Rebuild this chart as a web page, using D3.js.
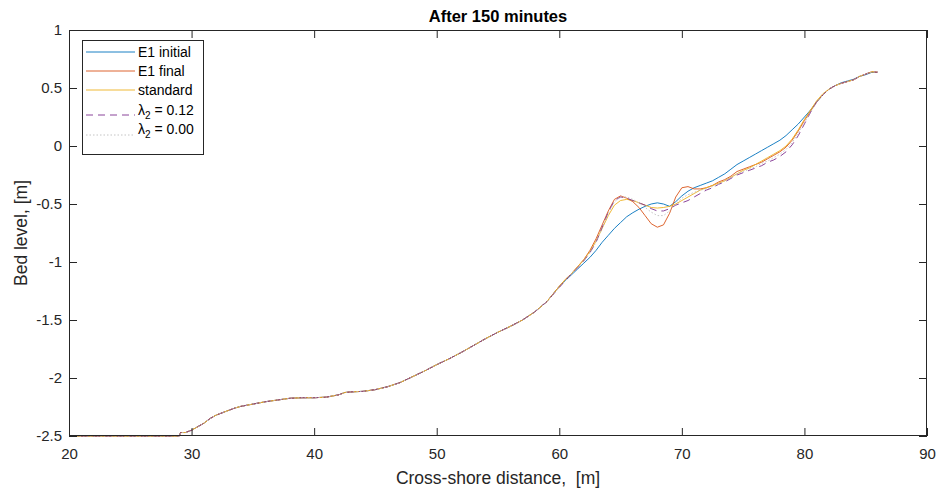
<!DOCTYPE html>
<html>
<head>
<meta charset="utf-8">
<script src="https://cdn.jsdelivr.net/npm/d3@7"></script>
<style>
  html, body { margin: 0; padding: 0; background: #fff; }
  svg { display: block; font-family: "Liberation Sans", Arial, sans-serif; }
  text { white-space: pre; }
</style>
</head>
<body>
<svg id="chart" width="939" height="491"></svg>
<script>
// ---------- data ----------
const xTicks = [20, 30, 40, 50, 60, 70, 80, 90];
const yTicks = [-2.5, -2, -1.5, -1, -0.5, 0, 0.5, 1];
const titleText = "After 150 minutes";
const xLabel = "Cross-shore distance,  [m]";
const yLabel = "Bed level, [m]";

// offshore part, shared by all profiles (they coincide there)
const xOffshore = [20, 22, 24, 26, 28, 29, 29.1, 29.5, 30, 30.5, 31, 31.5, 32, 32.5, 33, 33.5, 34, 35, 36, 37, 38, 39, 40, 41, 42, 42.5, 43, 44, 45, 46, 47, 48, 49, 50, 51, 52, 53, 54, 55, 56, 57, 58, 59];
const yOffshore = [-2.5, -2.5, -2.5, -2.5, -2.5, -2.5, -2.47, -2.47, -2.45, -2.42, -2.39, -2.35, -2.32, -2.30, -2.28, -2.26, -2.245, -2.225, -2.205, -2.19, -2.175, -2.17, -2.17, -2.165, -2.145, -2.125, -2.12, -2.115, -2.1, -2.075, -2.04, -1.99, -1.94, -1.885, -1.835, -1.78, -1.72, -1.66, -1.605, -1.555, -1.5, -1.43, -1.34];

// nearshore part, x from 60 to 86 every 0.5 m
const xNear = [60, 60.5, 61, 61.5, 62, 62.5, 63, 63.5, 64, 64.5, 65, 65.5, 66, 66.5, 67, 67.5, 68, 68.5, 69, 69.5, 70, 70.5, 71, 71.5, 72, 72.5, 73, 73.5, 74, 74.5, 75, 75.5, 76, 76.5, 77, 77.5, 78, 78.5, 79, 79.5, 80, 80.5, 81, 81.5, 82, 82.5, 83, 83.5, 84, 84.5, 85, 85.5, 86];
const e1Initial = [-1.21, -1.16, -1.11, -1.06, -1.01, -0.96, -0.90, -0.83, -0.77, -0.71, -0.66, -0.61, -0.575, -0.545, -0.52, -0.50, -0.49, -0.50, -0.52, -0.48, -0.43, -0.39, -0.36, -0.34, -0.32, -0.30, -0.27, -0.24, -0.20, -0.16, -0.13, -0.10, -0.07, -0.04, -0.01, 0.02, 0.05, 0.09, 0.14, 0.19, 0.25, 0.31, 0.38, 0.44, 0.49, 0.52, 0.545, 0.56, 0.575, 0.60, 0.615, 0.635, 0.635];
const e1Final = [-1.21, -1.15, -1.10, -1.04, -0.98, -0.90, -0.80, -0.68, -0.56, -0.46, -0.43, -0.45, -0.48, -0.53, -0.60, -0.67, -0.70, -0.68, -0.58, -0.44, -0.36, -0.35, -0.37, -0.37, -0.36, -0.34, -0.31, -0.29, -0.26, -0.22, -0.20, -0.18, -0.16, -0.14, -0.11, -0.08, -0.05, -0.01, 0.05, 0.13, 0.22, 0.30, 0.38, 0.44, 0.49, 0.52, 0.54, 0.555, 0.57, 0.60, 0.62, 0.64, 0.635];
const standard = [-1.21, -1.15, -1.10, -1.04, -0.98, -0.91, -0.82, -0.71, -0.60, -0.51, -0.47, -0.46, -0.47, -0.49, -0.51, -0.53, -0.535, -0.53, -0.52, -0.50, -0.47, -0.44, -0.41, -0.38, -0.36, -0.34, -0.32, -0.30, -0.27, -0.24, -0.21, -0.19, -0.16, -0.13, -0.10, -0.07, -0.04, 0.0, 0.06, 0.14, 0.23, 0.31, 0.39, 0.45, 0.49, 0.52, 0.54, 0.555, 0.57, 0.60, 0.62, 0.64, 0.635];
const lambda012 = [-1.22, -1.16, -1.10, -1.05, -0.99, -0.92, -0.83, -0.70, -0.57, -0.47, -0.44, -0.45, -0.47, -0.49, -0.51, -0.54, -0.56, -0.56, -0.54, -0.51, -0.49, -0.47, -0.44, -0.41, -0.38, -0.36, -0.33, -0.31, -0.28, -0.25, -0.23, -0.21, -0.19, -0.17, -0.14, -0.12, -0.09, -0.05, 0.01, 0.09, 0.19, 0.29, 0.38, 0.44, 0.49, 0.52, 0.54, 0.555, 0.57, 0.60, 0.62, 0.64, 0.635];
const lambda000 = [-1.22, -1.16, -1.10, -1.05, -0.99, -0.92, -0.83, -0.71, -0.58, -0.48, -0.44, -0.44, -0.46, -0.49, -0.53, -0.57, -0.60, -0.60, -0.56, -0.50, -0.45, -0.42, -0.40, -0.38, -0.37, -0.35, -0.33, -0.30, -0.27, -0.24, -0.22, -0.20, -0.18, -0.15, -0.13, -0.10, -0.07, -0.03, 0.03, 0.11, 0.20, 0.29, 0.38, 0.44, 0.49, 0.52, 0.54, 0.555, 0.57, 0.60, 0.62, 0.64, 0.635];

const seriesNames = ["E1 initial", "E1 final", "standard", "λ2 = 0.12", "λ2 = 0.00"];
const seriesValues = [e1Initial, e1Final, standard, lambda012, lambda000];

// ---------- styling ----------
const styles = [
  { color: "#0072BD", dash: null, width: 0.9 },
  { color: "#D95319", dash: null, width: 0.9 },
  { color: "#EDB120", dash: null, width: 0.9 },
  { color: "#7E2F8E", dash: "7,5", width: 0.9 },
  { color: "#BDBDBD", dash: "1.5,2", width: 0.9 }
];

const W = 939, H = 491;
const mLeft = 69, mRight = 927, mTop = 30, mBottom = 436;
const axisColor = "#262626";

const svg = d3.select("#chart");
const x = d3.scaleLinear().domain([20, 90]).range([mLeft, mRight]);
const y = d3.scaleLinear().domain([-2.5, 1]).range([mBottom, mTop]);

svg.append("rect").attr("width", W).attr("height", H).attr("fill", "#fff");

// profiles
svg.append("clipPath").attr("id", "clip").append("rect")
  .attr("x", mLeft).attr("y", mTop - 2).attr("width", mRight - mLeft).attr("height", mBottom - mTop + 4);

const line = d3.line().x(d => x(d[0])).y(d => y(d[1]));
const gLines = svg.append("g").attr("clip-path", "url(#clip)");
seriesValues.forEach((vals, i) => {
  const pts = xOffshore.map((xv, j) => [xv, yOffshore[j]])
    .concat(xNear.map((xv, j) => [xv, vals[j]]))
    .filter(d => d[1] !== undefined);
  const p = gLines.append("path").datum(pts)
    .attr("d", line)
    .attr("fill", "none")
    .attr("stroke", styles[i].color)
    .attr("stroke-width", styles[i].width)
    .attr("stroke-linejoin", "round");
  if (styles[i].dash) p.attr("stroke-dasharray", styles[i].dash);
});

// axes
function styleAxis(g) {
  g.select(".domain").remove();
  g.selectAll(".tick line").attr("stroke", axisColor);
  g.selectAll(".tick text").attr("fill", axisColor).style("font-size", "15px")
    .style("font-family", "'Liberation Sans', Arial, sans-serif");
}
svg.append("g").attr("transform", `translate(0,${mBottom})`)
  .call(d3.axisBottom(x).tickValues(xTicks).tickSizeInner(-8).tickSizeOuter(0).tickPadding(12).tickFormat(d3.format("d")))
  .call(styleAxis);
svg.append("g").attr("transform", `translate(0,${mTop})`)
  .call(d3.axisTop(x).tickValues(xTicks).tickSizeInner(-8).tickSizeOuter(0).tickFormat(""))
  .call(styleAxis);
svg.append("g").attr("transform", `translate(${mLeft},0)`)
  .call(d3.axisLeft(y).tickValues(yTicks).tickSizeInner(-8).tickSizeOuter(0).tickPadding(7).tickFormat(d => String(d)))
  .call(styleAxis);
svg.append("g").attr("transform", `translate(${mRight},0)`)
  .call(d3.axisRight(y).tickValues(yTicks).tickSizeInner(-8).tickSizeOuter(0).tickFormat(""))
  .call(styleAxis);

// box
svg.append("rect").attr("x", mLeft + 0.5).attr("y", mTop + 0.5)
  .attr("width", mRight - mLeft - 1).attr("height", mBottom - mTop - 1)
  .attr("fill", "none").attr("stroke", axisColor).attr("stroke-width", 1);

// title and labels
svg.append("text").attr("x", (mLeft + mRight) / 2).attr("y", 22)
  .attr("text-anchor", "middle").attr("font-weight", "bold").attr("font-size", 16.5)
  .attr("fill", "#000").text(titleText);
svg.append("text").attr("x", (mLeft + mRight) / 2).attr("y", 484)
  .attr("text-anchor", "middle").attr("font-size", 17.5).attr("fill", axisColor).text(xLabel);
svg.append("text").attr("transform", `translate(27,${(mTop + mBottom) / 2}) rotate(-90)`)
  .attr("text-anchor", "middle").attr("font-size", 17.5).attr("fill", axisColor).text(yLabel);

// legend
const lg = svg.append("g");
lg.append("rect").attr("x", 82.5).attr("y", 40.5).attr("width", 121).attr("height", 114)
  .attr("fill", "#fff").attr("stroke", axisColor).attr("stroke-width", 1);
const rowLineY = [52, 71, 90, 115, 135];
const rowTextY = [57, 76, 95, 115, 134];
seriesNames.forEach((name, i) => {
  const l = lg.append("line").attr("x1", 86).attr("x2", 135)
    .attr("y1", rowLineY[i]).attr("y2", rowLineY[i])
    .attr("stroke", styles[i].color).attr("stroke-width", styles[i].width);
  if (styles[i].dash) l.attr("stroke-dasharray", styles[i].dash);
  const t = lg.append("text").attr("x", 138).attr("y", rowTextY[i])
    .attr("font-size", 14).attr("fill", "#000");
  if (name.startsWith("λ")) {
    const rest = name.slice(2);
    t.append("tspan").text("λ");
    t.append("tspan").attr("dy", 4).attr("font-size", 10).text("2");
    t.append("tspan").attr("dy", -4).text(rest);
  } else {
    t.text(name);
  }
});
</script>
</body>
</html>
